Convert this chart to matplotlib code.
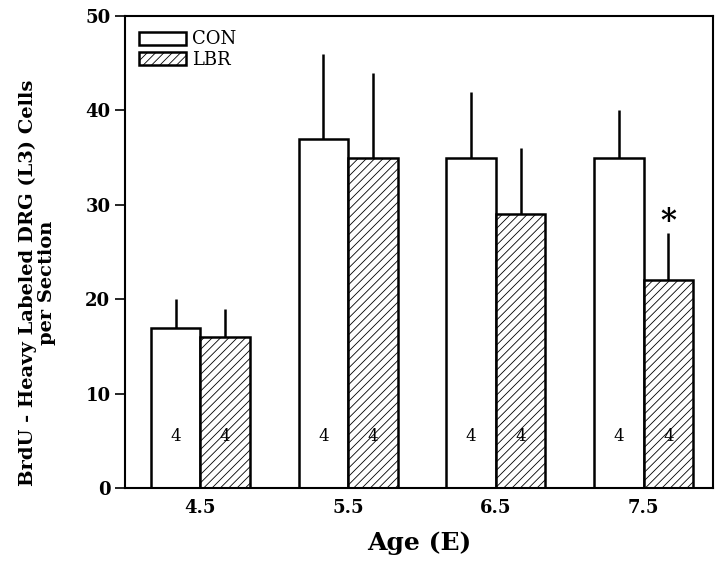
import matplotlib
matplotlib.use("Agg")
import matplotlib.pyplot as plt
import numpy as np

ages = ["4.5", "5.5", "6.5", "7.5"]
con_mean = [17, 37, 35, 35]
con_err = [3, 9, 7, 5]
lbr_mean = [16, 35, 29, 22]
lbr_err = [3, 9, 7, 5]
n_labels = ["4", "4", "4", "4"]

plt.rcParams["font.family"] = ["DejaVu Serif"]
plt.rcParams["hatch.linewidth"] = 0.6
plt.rcParams["hatch.color"] = "#444444"

fig = plt.figure(figsize=(7.2, 5.62), dpi=100)
ax = fig.add_axes([0.1736, 0.1317, 0.8167, 0.8398])

x = np.arange(len(ages)) + 4.5
w = 0.335

ax.bar(x - w / 2, con_mean, w, color="white", edgecolor="black", linewidth=1.8,
       yerr=[np.zeros(4), con_err], error_kw=dict(ecolor="black", elinewidth=1.8, capsize=0),
       label="CON", zorder=2)
ax.bar(x + w / 2, lbr_mean, w, color="white", edgecolor="black", linewidth=1.8, hatch="////",
       yerr=[np.zeros(4), lbr_err], error_kw=dict(ecolor="black", elinewidth=1.8, capsize=0),
       label="LBR", zorder=2)

for xi, n in zip(x, n_labels):
    ax.text(xi - w / 2, 5.5, n, ha="center", va="center", fontsize=12)
    ax.text(xi + w / 2, 5.5, n, ha="center", va="center", fontsize=12)

ax.text(x[3] + w / 2, 28.2, "*", ha="center", va="center", fontsize=22, fontweight="bold")

ax.set_xlim(3.99, 7.97)
ax.set_ylim(0, 50)
ax.set_xticks(x)
ax.set_xticklabels(ages)
ax.set_yticks([0, 10, 20, 30, 40, 50])
ax.tick_params(axis="x", length=0, pad=8, labelsize=13)
ax.tick_params(axis="y", direction="out", length=7, width=1.2, labelsize=13)
for lab in ax.get_xticklabels() + ax.get_yticklabels():
    lab.set_fontweight("bold")
for s in ax.spines.values():
    s.set_linewidth(1.5)

ax.set_xlabel("Age (E)", fontsize=18, fontweight="bold", labelpad=10)
ax.set_ylabel("BrdU - Heavy Labeled DRG (L3) Cells\nper Section", fontsize=14,
              fontweight="bold", linespacing=1.1)
ax.yaxis.set_label_coords(-0.117, 0.434)

ax.legend(loc="upper left", frameon=False, fontsize=13, handlelength=2.6, handleheight=0.75,
          handletextpad=0.3, labelspacing=0.15, borderaxespad=0.6, borderpad=0.2)

fig.savefig("out.png", dpi=100)
